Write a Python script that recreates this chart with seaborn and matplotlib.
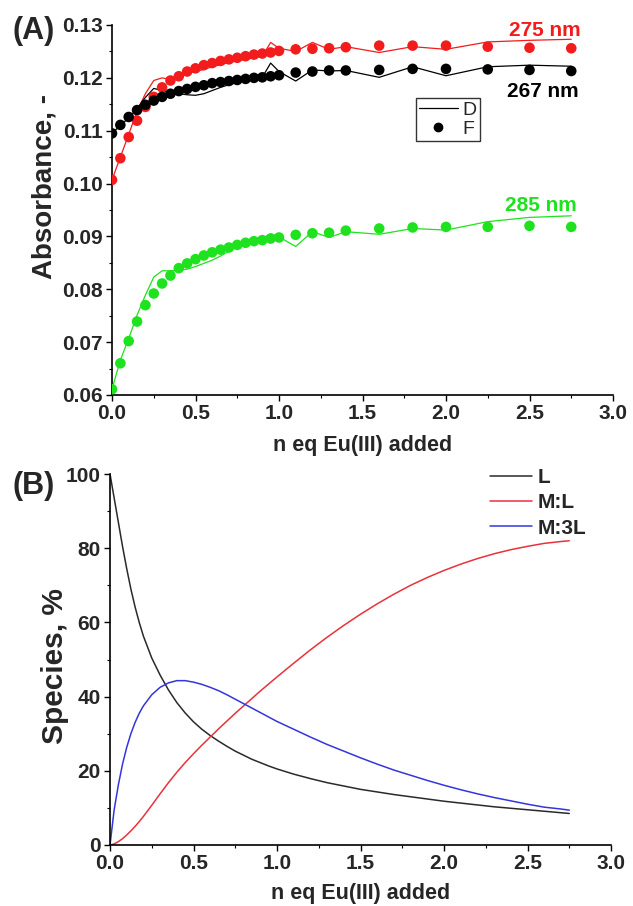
import matplotlib
matplotlib.use("Agg")
import numpy as np
import pandas as pd
import matplotlib.pyplot as plt
import seaborn as sns
from matplotlib.ticker import MultipleLocator, FormatStrFormatter
from matplotlib.lines import Line2D

# ---------------- data: titration absorbance (panel A) ----------------
eq_added = [0.00, 0.05, 0.10, 0.15, 0.20, 0.25, 0.30, 0.35, 0.40, 0.45,
            0.50, 0.55, 0.60, 0.65, 0.70, 0.75, 0.80, 0.85, 0.90, 0.95,
            1.00, 1.10, 1.20, 1.30, 1.40, 1.60, 1.80, 2.00, 2.25, 2.50, 2.75]

wavelengths = ["275 nm", "267 nm", "285 nm"]

# D: measured absorbance
d_275 = [0.1007, 0.1050, 0.1093, 0.1137, 0.1170, 0.1195, 0.1200, 0.1197, 0.1203, 0.1208,
         0.1212, 0.1216, 0.1221, 0.1225, 0.1229, 0.1232, 0.1235, 0.1238, 0.1241, 0.1267,
         0.1256, 0.1250, 0.1267, 0.1254, 0.1259, 0.1248, 0.1259, 0.1254, 0.1268, 0.1271, 0.1273]
d_267 = [0.1095, 0.1110, 0.1124, 0.1142, 0.1163, 0.1180, 0.1176, 0.1172, 0.1170, 0.1168,
         0.1167, 0.1170, 0.1176, 0.1182, 0.1187, 0.1191, 0.1195, 0.1198, 0.1201, 0.1228,
         0.1212, 0.1194, 0.1215, 0.1213, 0.1214, 0.1201, 0.1221, 0.1204, 0.1221, 0.1224, 0.1222]
d_285 = [0.0611, 0.0666, 0.0707, 0.0751, 0.0789, 0.0823, 0.0835, 0.0835, 0.0836, 0.0838,
         0.0843, 0.0849, 0.0855, 0.0863, 0.0872, 0.0882, 0.0888, 0.0892, 0.0896, 0.0905,
         0.0899, 0.0881, 0.0909, 0.0898, 0.0909, 0.0904, 0.0915, 0.0912, 0.0928, 0.0936, 0.0939]

# F: fitted absorbance
f_275 = [0.1007, 0.1048, 0.1088, 0.1119, 0.1145, 0.1164, 0.1182, 0.1195, 0.1203, 0.1212,
         0.1218, 0.1224, 0.1228, 0.1232, 0.1235, 0.1238, 0.1241, 0.1244, 0.1246, 0.1248,
         0.1251, 0.1254, 0.1255, 0.1256, 0.1258, 0.1261, 0.1261, 0.1261, 0.1259, 0.1257, 0.1256]
f_267 = [0.1095, 0.1111, 0.1126, 0.1139, 0.1149, 0.1157, 0.1164, 0.1170, 0.1175, 0.1179,
         0.1183, 0.1186, 0.1190, 0.1192, 0.1194, 0.1196, 0.1198, 0.1200, 0.1201, 0.1203,
         0.1205, 0.1210, 0.1212, 0.1214, 0.1214, 0.1215, 0.1217, 0.1217, 0.1216, 0.1215, 0.1213]
f_285 = [0.0611, 0.0660, 0.0702, 0.0739, 0.0770, 0.0792, 0.0811, 0.0826, 0.0840, 0.0849,
         0.0857, 0.0864, 0.0870, 0.0875, 0.0879, 0.0884, 0.0888, 0.0891, 0.0893, 0.0896,
         0.0898, 0.0903, 0.0906, 0.0907, 0.0911, 0.0915, 0.0917, 0.0918, 0.0918, 0.0920, 0.0918]

# ---------------- data: species distribution (panel B) ----------------
eq_species = [0.000, 0.025, 0.050, 0.075, 0.100, 0.125, 0.150, 0.175, 0.200, 0.250,
              0.300, 0.350, 0.400, 0.450, 0.500, 0.550, 0.600, 0.650, 0.700, 0.750,
              0.800, 0.850, 0.900, 0.950, 1.000, 1.100, 1.200, 1.300, 1.400, 1.500,
              1.600, 1.700, 1.800, 1.900, 2.000, 2.100, 2.200, 2.300, 2.400, 2.500,
              2.600, 2.700, 2.750]
species_names = ["L", "M:L", "M:3L"]
pct_L = [100.0, 93.5, 87.0, 80.5, 74.5, 69.0, 64.2, 60.0, 56.3, 50.4,
         45.8, 41.8, 38.4, 35.6, 33.2, 31.2, 29.5, 28.0, 26.6, 25.3,
         24.2, 23.1, 22.2, 21.3, 20.5, 19.1, 17.9, 16.8, 15.9, 15.0,
         14.3, 13.6, 13.0, 12.4, 11.8, 11.3, 10.8, 10.3, 9.9, 9.5,
         9.1, 8.7, 8.5]
pct_ML = [0.0, 0.3, 0.9, 1.7, 2.7, 3.8, 5.0, 6.3, 7.7, 10.7,
          13.8, 16.8, 19.6, 22.2, 24.6, 26.9, 29.1, 31.3, 33.4, 35.5,
          37.5, 39.5, 41.5, 43.4, 45.3, 49.0, 52.6, 56.0, 59.2, 62.2,
          65.0, 67.6, 70.0, 72.1, 74.0, 75.7, 77.2, 78.5, 79.6, 80.5,
          81.3, 81.8, 82.0]
pct_M3L = [0.0, 9.5, 16.2, 21.8, 26.3, 30.0, 33.0, 35.5, 37.5, 40.5,
           42.5, 43.7, 44.3, 44.3, 43.9, 43.3, 42.5, 41.6, 40.5, 39.3,
           38.1, 36.9, 35.7, 34.5, 33.3, 31.2, 29.1, 27.1, 25.3, 23.5,
           21.8, 20.2, 18.8, 17.4, 16.1, 14.9, 13.8, 12.8, 11.9, 11.0,
           10.2, 9.7, 9.4]

# ---------------- styling ----------------
sns.set_theme(style="ticks")
plt.rcParams["font.family"] = ["Liberation Sans", "DejaVu Sans"]
plt.rcParams["font.weight"] = "bold"
plt.rcParams["axes.labelweight"] = "bold"

wl_colors = {"275 nm": "#f21c1c", "267 nm": "#000000", "285 nm": "#1ee21e"}
sp_colors = {"L": "#2a2a2a", "M:L": "#e8323c", "M:3L": "#3535dc"}

n = len(eq_added)
df_d = pd.DataFrame({
    "eq": eq_added * 3,
    "abs": d_275 + d_267 + d_285,
    "wl": [wavelengths[0]] * n + [wavelengths[1]] * n + [wavelengths[2]] * n,
})
df_f = pd.DataFrame({
    "eq": eq_added * 3,
    "abs": f_275 + f_267 + f_285,
    "wl": [wavelengths[0]] * n + [wavelengths[1]] * n + [wavelengths[2]] * n,
})
m = len(eq_species)
df_sp = pd.DataFrame({
    "eq": eq_species * 3,
    "pct": pct_L + pct_ML + pct_M3L,
    "species": [species_names[0]] * m + [species_names[1]] * m + [species_names[2]] * m,
})

W, H = 633, 906
fig = plt.figure(figsize=(W / 100, H / 100), dpi=100)
axA = fig.add_axes([112 / W, 1 - 395 / H, 501 / W, 370 / H])
axB = fig.add_axes([110 / W, 1 - 845 / H, 501 / W, 371 / H])

# ---------------- panel A ----------------
sns.lineplot(data=df_d, x="eq", y="abs", hue="wl", palette=wl_colors, ax=axA,
             estimator=None, sort=False, linewidth=0.9, legend=False, zorder=2)
sns.scatterplot(data=df_f, x="eq", y="abs", hue="wl", palette=wl_colors, ax=axA,
                s=58, linewidth=0, legend=False, zorder=3)

axA.set_xlim(0, 3.0)
axA.set_ylim(0.06, 0.13)
axA.xaxis.set_major_locator(MultipleLocator(0.5))
axA.xaxis.set_minor_locator(MultipleLocator(0.25))
axA.xaxis.set_major_formatter(FormatStrFormatter("%.1f"))
axA.yaxis.set_major_locator(MultipleLocator(0.01))
axA.yaxis.set_minor_locator(MultipleLocator(0.005))
axA.yaxis.set_major_formatter(FormatStrFormatter("%.2f"))

for txt, x, y in [("275 nm", 2.808, 0.1279), ("267 nm", 2.796, 0.1163), ("285 nm", 2.784, 0.0949)]:
    axA.text(x, y, txt, color=wl_colors[txt], fontsize=15, fontweight="bold",
             ha="right", va="baseline")

legA = axA.legend(
    handles=[Line2D([0], [0], color="black", lw=0.9),
             Line2D([0], [0], marker="o", color="black", ls="none", markersize=6)],
    labels=["D", "F"], loc="upper left",
    bbox_to_anchor=(416 / W, 1 - 98 / H), bbox_transform=fig.transFigure,
    frameon=True, fancybox=False, framealpha=1, edgecolor="#333333",
    borderpad=0.15, labelspacing=0.1, handlelength=2.0, handletextpad=0.25,
    borderaxespad=0, prop={"size": 14, "weight": "normal"})
legA.get_frame().set_linewidth(1.0)

axA.set_xlabel("n eq Eu(III) added", fontsize=15.5, va="top")
axA.xaxis.set_label_coords(0.5, -0.108)
axA.set_ylabel("Absorbance, -", fontsize=20, va="center")
axA.yaxis.set_label_coords(-0.134, 0.563)

# ---------------- panel B ----------------
sns.lineplot(data=df_sp, x="eq", y="pct", hue="species", palette=sp_colors, ax=axB,
             estimator=None, sort=False, linewidth=1.1, legend=False)

axB.set_xlim(0, 3.0)
axB.set_ylim(0, 100)
axB.xaxis.set_major_locator(MultipleLocator(0.5))
axB.xaxis.set_minor_locator(MultipleLocator(0.25))
axB.xaxis.set_major_formatter(FormatStrFormatter("%.1f"))
axB.yaxis.set_major_locator(MultipleLocator(20))
axB.yaxis.set_minor_locator(MultipleLocator(10))
axB.yaxis.set_major_formatter(FormatStrFormatter("%d"))

legB = axB.legend(
    handles=[Line2D([0], [0], color=sp_colors[s], lw=1.1) for s in species_names],
    labels=species_names, loc="upper left",
    bbox_to_anchor=(490 / W, 1 - 468 / H), bbox_transform=fig.transFigure,
    frameon=False, borderpad=0, borderaxespad=0, labelspacing=0.3,
    handlelength=2.0, handletextpad=0.3, prop={"size": 15, "weight": "bold"})

axB.set_xlabel("n eq Eu(III) added", fontsize=15.5, va="top")
axB.xaxis.set_label_coords(0.5, -0.103)
axB.set_ylabel("Species, %", fontsize=21.5, va="center")
axB.yaxis.set_label_coords(-0.109, 0.4825)

# ---------------- common axis styling ----------------
for ax in (axA, axB):
    sns.despine(ax=ax)
    for side in ("left", "bottom"):
        ax.spines[side].set_linewidth(1.2)
        ax.spines[side].set_color("black")
    ax.tick_params(which="major", direction="out", length=4.5, width=1.0,
                   labelsize=15, pad=2, color="black")
    ax.tick_params(which="minor", direction="out", length=2.5, width=0.8, color="black")
    for lab in ax.get_xticklabels() + ax.get_yticklabels():
        lab.set_fontweight("bold")

fig.text(12 / W, 1 - 39 / H, "(A)", fontsize=22, fontweight="bold", ha="left", va="baseline")
fig.text(12 / W, 1 - 494 / H, "(B)", fontsize=22, fontweight="bold", ha="left", va="baseline")

fig.savefig("out.png", dpi=100, facecolor="white")
